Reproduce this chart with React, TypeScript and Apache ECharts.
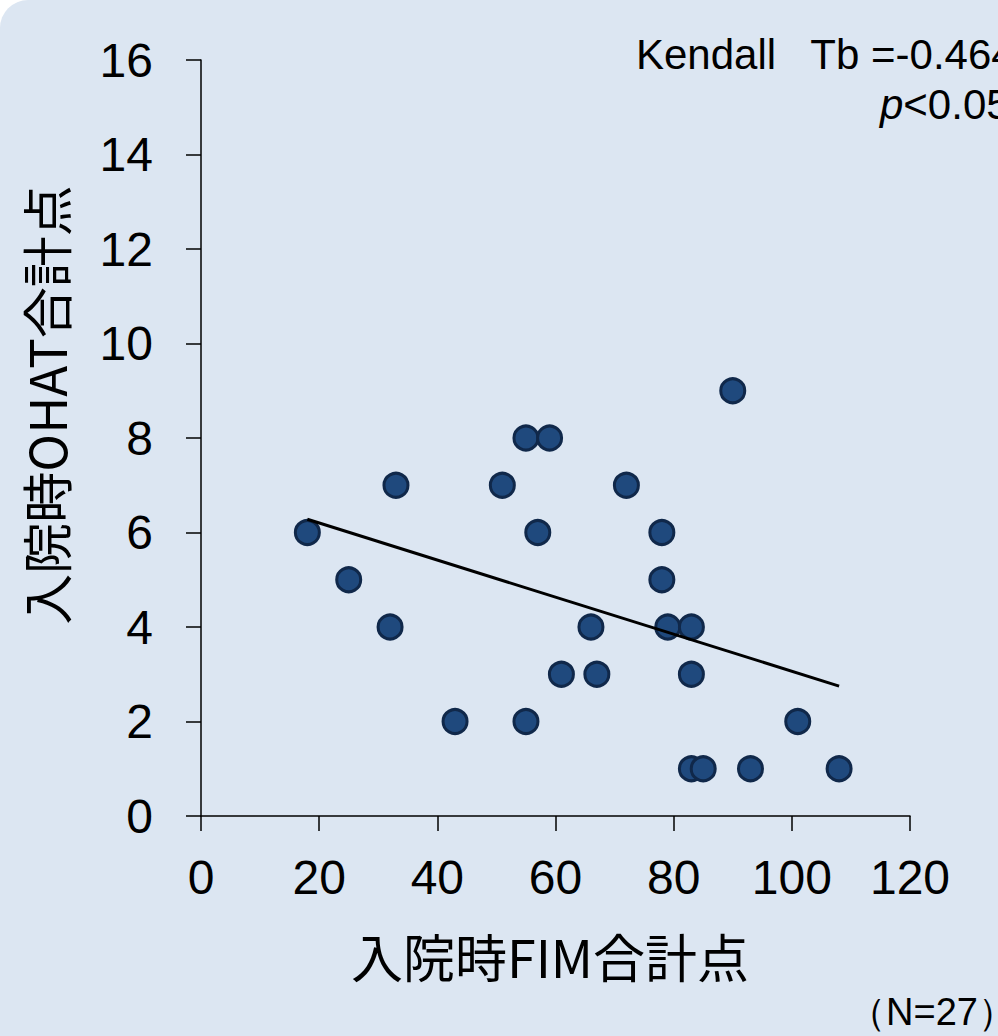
import React, { useEffect, useRef } from "react";
import * as echarts from "echarts";

const fimScores = [18, 25, 32, 33, 43, 51, 55, 59, 57, 55, 61, 66, 67, 72, 78, 78, 79, 83, 83, 83, 85, 90, 93, 101, 108];
const ohatScores = [6, 5, 4, 7, 2, 7, 8, 8, 6, 2, 3, 4, 3, 7, 6, 5, 4, 4, 3, 1, 1, 9, 1, 2, 1];
const trendX = [18, 108];
const trendY = [6.28, 2.75];
const xTitle = "入院時FIM合計点";
const yTitle = "入院時OHAT合計点";
const statLine1 = "Kendall   Tb =-0.464";
const statLine2 = "p<0.05";
const sampleNote = "（N=27）";

export default function App() {
  const ref = useRef<HTMLDivElement>(null);
  useEffect(() => {
    if (!ref.current) return;
    const chart = echarts.init(ref.current, undefined, { renderer: "svg" });
    const font = "Liberation Sans, Arial, sans-serif";
    const cjk = "'Noto Sans CJK JP', sans-serif";
    chart.setOption({
      animation: false,
      backgroundColor: "#ffffff",
      grid: { left: 201, right: 88, top: 60, bottom: 220, containLabel: false },
      xAxis: {
        type: "value",
        min: 0,
        max: 120,
        interval: 20,
        axisLine: { show: true, onZero: false, lineStyle: { color: "#000", width: 1.5 } },
        axisTick: { show: true, inside: false, length: 15, lineStyle: { color: "#000", width: 1.5 } },
        splitLine: { show: false },
        axisLabel: { color: "#000", fontSize: 48, fontFamily: font, margin: 37 },
      },
      yAxis: {
        type: "value",
        min: 0,
        max: 16,
        interval: 2,
        axisLine: { show: true, onZero: false, lineStyle: { color: "#000", width: 1.5 } },
        axisTick: { show: true, inside: false, length: 15, lineStyle: { color: "#000", width: 1.5 } },
        splitLine: { show: false },
        axisLabel: { color: "#000", fontSize: 48, fontFamily: font, margin: 48 },
      },
      graphic: [
        {
          type: "rect",
          z: -10,
          silent: true,
          shape: { x: 0, y: 0, width: 1100, height: 1100, r: 28 },
          style: { fill: "#dce6f2" },
        },
        {
          type: "text",
          x: 550,
          y: 955,
          style: { text: xTitle, fill: "#000", font: `52px ${cjk}`, align: "center", verticalAlign: "middle" },
        },
        {
          type: "text",
          x: 45,
          y: 405,
          rotation: Math.PI / 2,
          style: { text: yTitle, fill: "#000", font: `51px ${cjk}`, align: "center", verticalAlign: "middle" },
        },
        {
          type: "text",
          x: 636,
          y: 54,
          style: { text: statLine1, fill: "#000", font: `42px ${font}`, align: "left", verticalAlign: "middle" },
        },
        {
          type: "text",
          x: 880,
          y: 104,
          style: {
            rich: {
              i: { fontStyle: "italic", fontSize: 42, fontFamily: font, fill: "#000" },
              n: { fontSize: 42, fontFamily: font, fill: "#000" },
            },
            text: `{i|${statLine2.slice(0, 1)}}{n|${statLine2.slice(1)}}`,
            align: "left",
            verticalAlign: "middle",
          },
        },
        {
          type: "text",
          x: 848,
          y: 1012,
          style: { text: sampleNote, fill: "#000", font: `38px ${font}`, align: "left", verticalAlign: "middle" },
        },
      ],
      series: [
        {
          type: "line",
          data: trendX.map((x, i) => [x, trendY[i]]),
          symbol: "none",
          lineStyle: { color: "#000", width: 3 },
          z: 3,
        },
        {
          type: "scatter",
          data: fimScores.map((x, i) => [x, ohatScores[i]]),
          symbol: "circle",
          symbolSize: 24,
          itemStyle: { color: "#1f497d", borderColor: "#10284a", borderWidth: 3, opacity: 1 },
          z: 2,
        },
      ],
    });
    return () => chart.dispose();
  }, []);
  return (
    <div
      ref={ref}
      style={{ position: "fixed", left: 0, top: 0, width: 998, height: 1036 }}
    />
  );
}
